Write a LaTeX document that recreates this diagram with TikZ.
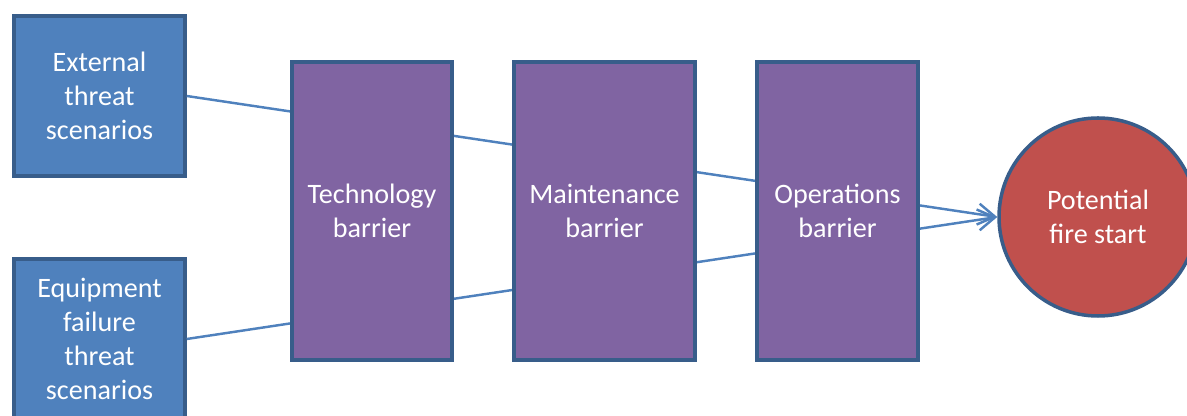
\documentclass[tikz,border=0pt]{standalone}
\usepackage{fontspec}
\setmainfont{Carlito}
\usetikzlibrary{arrows.meta}
\definecolor{threatblue}{HTML}{4F81BD}
\definecolor{barrierpurple}{HTML}{8064A2}
\definecolor{firered}{HTML}{C0504D}
\definecolor{edgeblue}{HTML}{385D8A}
\begin{document}
\begin{tikzpicture}[
  box/.style={draw=edgeblue, line width=2pt, text=white, align=center,
    font=\fontsize{16}{19.5}\selectfont, inner sep=0pt},
  threat/.style={box, fill=threatblue, minimum width=3.42cm, minimum height=3.2cm},
  barrier/.style={box, fill=barrierpurple, minimum height=5.96cm},
  link/.style={draw=threatblue, line width=1.4pt}
]
\useasboundingbox (0,0) rectangle (23.74,8.32);

% nodes
\node[threat] (E) at (1.99, 6.4) {External\\threat\\scenarios};
\node[threat] (F) at (1.99, 1.54) {Equipment\\failure\\threat\\scenarios};
\node[box, circle, fill=firered, minimum size=3.96cm] (P) at (21.96, 3.98) {Potential\\fire start};

% arrows
\draw[link, -{Straight Barb[length=0.34cm, width=0.42cm]}] (E.east) -- (P.west);
\draw[link, -{Straight Barb[length=0.34cm, width=0.42cm]}] (F.east) -- (P.west);

% barriers
\node[barrier, minimum width=3.2cm] (T) at (7.44, 4.1) {Technology\\barrier};
\node[barrier, minimum width=3.62cm] (M) at (12.09, 4.1) {Maintenance\\barrier};
\node[barrier, minimum width=3.22cm] (O) at (16.75, 4.1) {Operations\\barrier};
\end{tikzpicture}
\end{document}
